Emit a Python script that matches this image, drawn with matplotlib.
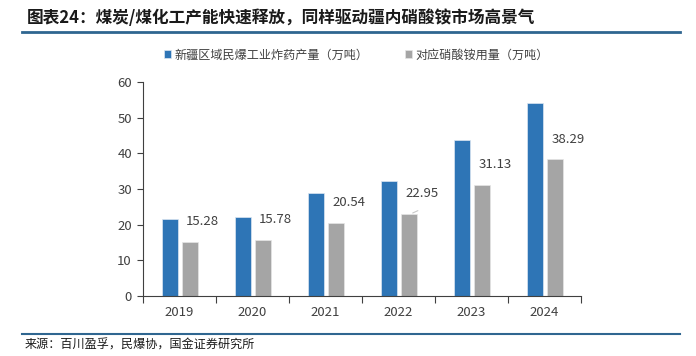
import matplotlib
matplotlib.use("Agg")
import matplotlib.pyplot as plt
import numpy as np

plt.rcParams['font.family'] = ['Noto Sans CJK SC', 'DejaVu Sans']

# 数据
years = ['2019', '2020', '2021', '2022', '2023', '2024']
produccion = [21.6, 22.2, 29.0, 32.2, 43.6, 54.0]      # 新疆区域民爆工业炸药产量（万吨）
consumo = [15.28, 15.78, 20.54, 22.95, 31.13, 38.29]   # 对应硝酸铵用量（万吨）
etiquetas = ['新疆区域民爆工业炸药产量（万吨）', '对应硝酸铵用量（万吨）']

azul = '#2e75b6'
gris = '#a5a5a5'
linea = '#2f6690'

fig = plt.figure(figsize=(6.96, 3.56), dpi=100)
ax = fig.add_axes([143/696, 1-296/356, (581-143)/696, (296-82)/356])

x = np.arange(len(years))
ancho = 0.22
b1 = ax.bar(x - 0.135, produccion, ancho, color=azul, edgecolor='#dce6f2', linewidth=0.5, label=etiquetas[0])
b2 = ax.bar(x + 0.145, consumo, ancho, color=gris, edgecolor='#e6e6e6', linewidth=0.5, label=etiquetas[1])

#Etiquetas de valor arriba a la derecha de la barra gris
for i, v in enumerate(consumo):
    ax.annotate(f'{v:.2f}', xy=(x[i] + 0.145 - ancho/2, v), xytext=(3, 10),
                textcoords='offset points', fontsize=9.5, color='#404040',
                ha='left', va='bottom')
# linea guia de 22.95
ax.annotate('', xy=(x[3] + 0.16, consumo[3]), xytext=(x[3] + 0.3, consumo[3] + 1.3),
            arrowprops=dict(arrowstyle='-', color='#c8c8c8', lw=0.8))

ax.set_xlim(-0.5, len(years) - 0.5)
ax.set_ylim(0, 60)
ax.set_yticks(range(0, 61, 10))
ax.set_xticks(x)
ax.set_xticklabels(years)
ax.set_xticks(np.arange(-0.5, len(years), 1), minor=True)
ax.tick_params(axis='x', which='major', length=0, pad=7, labelsize=9.5, labelcolor='#404040')
ax.tick_params(axis='x', which='minor', length=5, direction='out', color='#404040', width=0.8)
ax.tick_params(axis='y', length=4, direction='out', color='#404040', width=0.8,
               labelsize=9.5, labelcolor='#404040', pad=4)
for s in ['top', 'right']:
    ax.spines[s].set_visible(False)
for s in ['left', 'bottom']:
    ax.spines[s].set_color('#404040')
    ax.spines[s].set_linewidth(0.8)

#Leyenda
fig.legend(handles=[b1, b2], labels=etiquetas, loc='center left',
           bbox_to_anchor=(153/696, 1-55/356), ncol=2, frameon=False,
           fontsize=8.7, handlelength=0.6, handleheight=0.6, handletextpad=0.3,
           columnspacing=3.0, labelcolor='#404040')

#Titulo y fuente
fig.text(27/696, 1-18/356, '图表24：煤炭/煤化工产能快速释放，同样驱动疆内硝酸铵市场高景气',
         fontsize=12, fontweight='bold', color='#1a1a1a', va='center', ha='left')
fig.add_artist(plt.Line2D([22/696, 680/696], [1-32/356, 1-32/356], color=linea, lw=2))
fig.add_artist(plt.Line2D([22/696, 680/696], [1-334/356, 1-334/356], color=linea, lw=1.5))
fig.text(25/696, 1-345/356, '来源：百川盈孚，民爆协，国金证券研究所',
         fontsize=8.7, color='#1a1a1a', va='center', ha='left')

fig.savefig('out.png', dpi=100)
